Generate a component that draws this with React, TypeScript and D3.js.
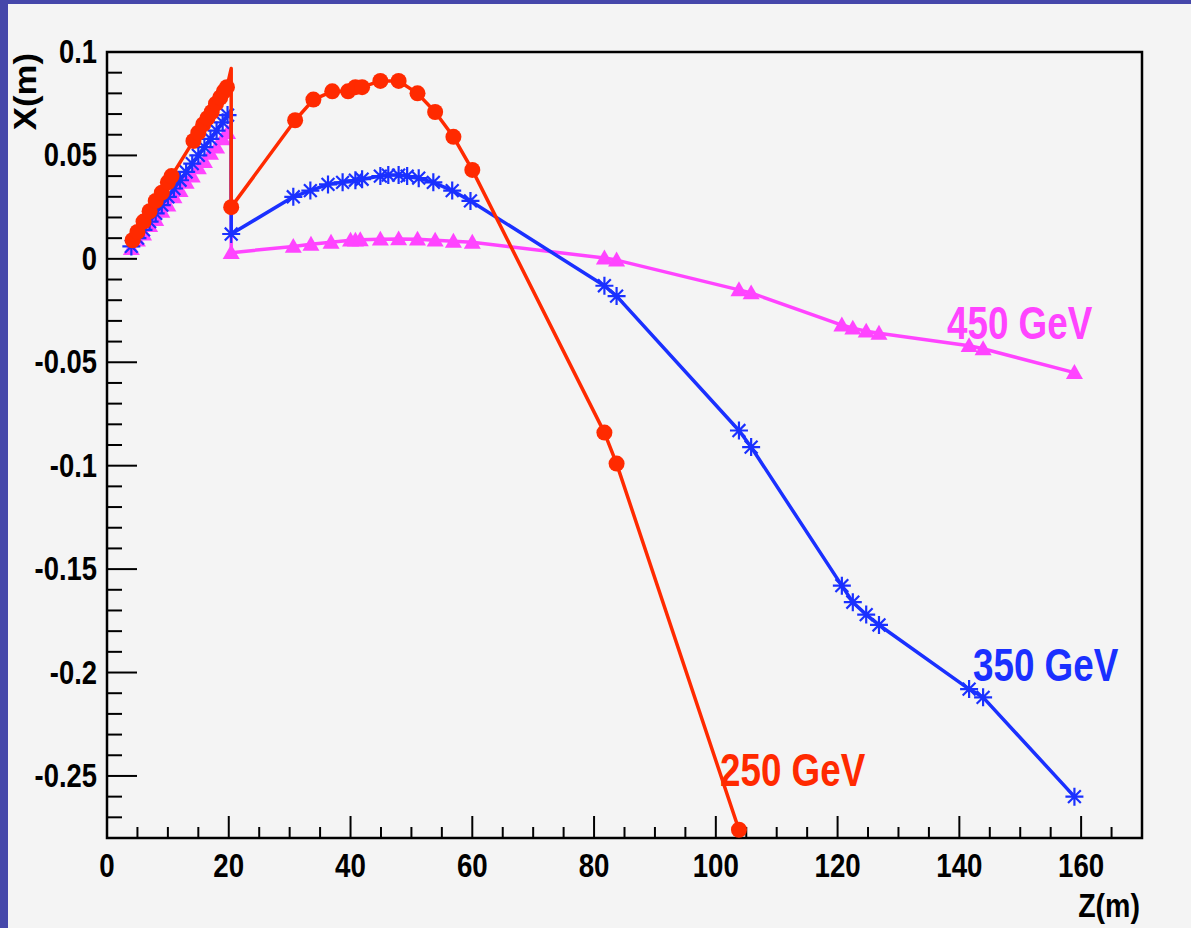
import React from "react";
import * as d3 from "d3";

const W = 1191;
const H = 928;

// ---- data ----
const xTicks = [0, 20, 40, 60, 80, 100, 120, 140, 160];
const yTicks = [0.1, 0.05, 0, -0.05, -0.1, -0.15, -0.2, -0.25];
const yTickLabels = ["0.1", "0.05", "0", "-0.05", "-0.1", "-0.15", "-0.2", "-0.25"];

const redZ = [4.2, 5, 6, 7, 8, 9, 10, 10.6, 14.2, 15, 15.8, 16.5, 17.2, 17.9, 18.6, 19.2, 19.7, 20.4, 30.9, 33.9, 37, 39.6, 40.8, 41.9, 44.9, 47.9, 51, 53.9, 56.9, 60, 81.7, 83.7, 103.8];
const redX = [0.009, 0.013, 0.018, 0.023, 0.028, 0.032, 0.037, 0.040, 0.057, 0.061, 0.065, 0.068, 0.071, 0.075, 0.078, 0.081, 0.083, 0.025, 0.067, 0.077, 0.081, 0.081, 0.083, 0.083, 0.086, 0.086, 0.080, 0.071, 0.059, 0.043, -0.084, -0.099, -0.276];
const redPeak = [20.4, 0.092];

const blueZ = [4, 5, 6, 7, 8, 9, 10, 11, 12, 13, 14, 15, 16, 17, 18, 19, 19.8, 20.4, 30.6, 33.4, 36.3, 38.7, 40.8, 41.9, 44.9, 46.2, 47.9, 49.3, 51.2, 53.6, 56.7, 59.7, 81.7, 83.7, 103.8, 105.8, 120.7, 122.5, 124.7, 126.8, 141.6, 143.9, 158.9];
const blueX = [0.006, 0.010, 0.014, 0.018, 0.022, 0.026, 0.030, 0.034, 0.038, 0.042, 0.046, 0.050, 0.054, 0.058, 0.062, 0.066, 0.0695, 0.012, 0.030, 0.033, 0.036, 0.037, 0.038, 0.0385, 0.040, 0.0405, 0.0405, 0.040, 0.039, 0.037, 0.033, 0.028, -0.013, -0.018, -0.083, -0.091, -0.158, -0.166, -0.172, -0.177, -0.208, -0.212, -0.260];
const bluePeak = [20.4, 0.072];

const magZ = [4, 5, 6, 7, 8, 9, 10, 11, 12, 13, 14, 15, 16, 17, 18, 19, 19.8, 20.4, 30.6, 33.5, 36.8, 40, 40.8, 41.6, 44.9, 47.9, 51, 53.9, 56.9, 60, 81.7, 83.7, 103.8, 105.8, 120.7, 122.5, 124.7, 126.8, 141.6, 143.9, 158.9];
const magX = [0.005, 0.009, 0.012, 0.016, 0.019, 0.023, 0.026, 0.030, 0.033, 0.037, 0.040, 0.044, 0.047, 0.051, 0.054, 0.058, 0.061, 0.003, 0.006, 0.007, 0.008, 0.009, 0.009, 0.0092, 0.0095, 0.0096, 0.0095, 0.009, 0.0085, 0.008, 0.0004, -0.0006, -0.015, -0.0165, -0.032, -0.0335, -0.035, -0.036, -0.042, -0.0435, -0.055];
const magPeak = [20.4, 0.065];

const seriesNames = ["450 GeV", "350 GeV", "250 GeV"];

// ---- layout ----
const L = 107, R = 1142, T = 52, B = 838;
const xScale = d3.scaleLinear().domain([0, 170]).range([L, R]);
const yScale = d3.scaleLinear().domain([-0.28, 0.1]).range([B, T]);

const FONT = "'Liberation Sans', Arial, Helvetica, sans-serif";

function Label({ x, y, text, size, anchor = "start", fill = "#000", sx = 0.83, rotate = 0 }: any) {
  return (
    <text
      transform={`translate(${x},${y}) rotate(${rotate}) scale(${sx},1)`}
      fontSize={size}
      fontWeight="bold"
      fontFamily={FONT}
      textAnchor={anchor}
      fill={fill}
    >
      {text}
    </text>
  );
}

function buildLine(zs: number[], xs: number[], peak: number[]) {
  const pts: [number, number][] = [];
  let inserted = false;
  zs.forEach((z, i) => {
    if (!inserted && z >= peak[0]) {
      pts.push([peak[0], peak[1]]);
      inserted = true;
    }
    pts.push([z, xs[i]]);
  });
  return pts;
}

const lineGen = d3
  .line<[number, number]>()
  .x((d) => xScale(d[0]))
  .y((d) => yScale(d[1]));

function Marker({ type, cx, cy, color }: any) {
  if (type === "circle") return <circle cx={cx} cy={cy} r={8} fill={color} />;
  if (type === "triangle") {
    const s = 8.5;
    return <path d={`M${cx},${cy - s}L${cx + s},${cy + s * 0.75}L${cx - s},${cy + s * 0.75}Z`} fill={color} />;
  }
  const a = 9, b = 6.4;
  return (
    <path
      d={`M${cx - a},${cy}L${cx + a},${cy}M${cx},${cy - a}L${cx},${cy + a}M${cx - b},${cy - b}L${cx + b},${cy + b}M${cx - b},${cy + b}L${cx + b},${cy - b}`}
      stroke={color}
      strokeWidth={2.2}
      fill="none"
    />
  );
}

const series = [
  { name: seriesNames[0], color: "#ff44ff", z: magZ, x: magX, peak: magPeak, marker: "triangle", lx: 947, ly: 339 },
  { name: seriesNames[1], color: "#1a30ff", z: blueZ, x: blueX, peak: bluePeak, marker: "star", lx: 973, ly: 681 },
  { name: seriesNames[2], color: "#ff2a00", z: redZ, x: redX, peak: redPeak, marker: "circle", lx: 720, ly: 786 },
];

export default function App() {
  const xMinor = d3.range(0, 171, 5);
  const yMinor = d3.range(-28, 11, 1).map((v) => v / 100);
  return (
    <svg width={W} height={H} style={{ position: "absolute", left: 0, top: 0 }}>
      <rect x={0} y={0} width={W} height={H} fill="#f4f4f4" />
      <rect x={0} y={0} width={8} height={H} fill="#4547aa" />
      <rect x={0} y={0} width={W} height={4} fill="#4547aa" />

      {/* ticks */}
      {yMinor.map((v, i) => {
        const major = Math.abs(Math.round(v * 100) % 5) === 0;
        return (
          <line key={"ym" + i} x1={L} x2={L + (major ? 30 : 15)} y1={yScale(v)} y2={yScale(v)} stroke="#000" strokeWidth={2} />
        );
      })}
      {xMinor.map((v, i) => {
        const major = v % 20 === 0;
        return (
          <line key={"xm" + i} x1={xScale(v)} x2={xScale(v)} y1={B} y2={B - (major ? 22 : 11)} stroke="#000" strokeWidth={2} />
        );
      })}

      {/* frame */}
      <rect x={L} y={T} width={R - L} height={B - T} fill="none" stroke="#000" strokeWidth={2.5} />

      {/* tick labels */}
      {yTicks.map((v, i) => (
        <Label key={"yl" + i} x={97} y={yScale(v) + 11} text={yTickLabels[i]} size={33} anchor="end" sx={0.83} />
      ))}
      {xTicks.map((v, i) => (
        <Label key={"xl" + i} x={xScale(v)} y={877} text={String(v)} size={33} anchor="middle" sx={0.84} />
      ))}

      {/* axis titles */}
      <Label x={1140} y={917} text="Z(m)" size={34} anchor="end" sx={0.84} />
      <Label x={36} y={53} text="X(m)" size={31} anchor="end" sx={1.12} rotate={-90} />

      {/* series */}
      {series.map((s) => {
        const pts = buildLine(s.z, s.x, s.peak);
        return (
          <g key={s.name}>
            <path d={lineGen(pts) || ""} fill="none" stroke={s.color} strokeWidth={3.5} strokeLinejoin="round" />
            {s.z.map((z, i) => (
              <Marker key={i} type={s.marker} cx={xScale(z)} cy={yScale(s.x[i])} color={s.color} />
            ))}
          </g>
        );
      })}

      {series.map((s) => (
        <Label key={"lab" + s.name} x={s.lx} y={s.ly} text={s.name} size={46} fill={s.color} sx={0.8} />
      ))}
    </svg>
  );
}
